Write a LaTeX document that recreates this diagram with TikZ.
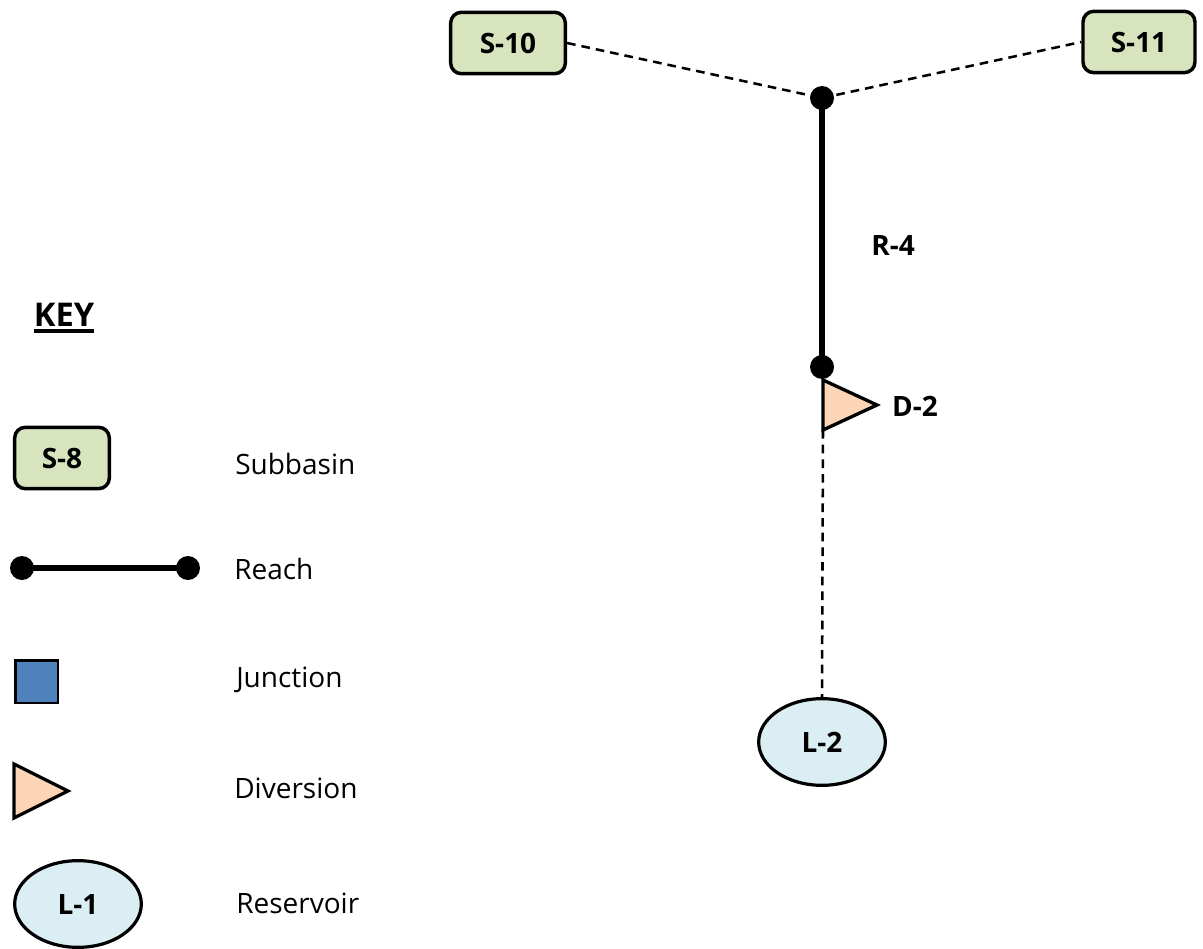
\documentclass[tikz,border=0pt]{standalone}
\usepackage{fontspec}
\setmainfont{Open Sans}
\usetikzlibrary{shapes.geometric}
\definecolor{subfill}{HTML}{D7E4BD}
\definecolor{divfill}{HTML}{FBD5B5}
\definecolor{resfill}{HTML}{DAEEF3}
\definecolor{junfill}{HTML}{4F81BD}
\begin{document}
\begin{tikzpicture}[x=0.75pt,y=-0.75pt,
  lbl/.style={font=\bfseries\fontsize{21}{24}\selectfont},
  sub/.style={draw, line width=2.6pt, rounded corners=8pt, fill=subfill, minimum height=46pt, inner sep=0pt, lbl},
  res/.style={ellipse, draw, line width=2.4pt, fill=resfill, minimum width=95pt, minimum height=65pt, inner sep=0pt, lbl},
  dot/.style={circle, fill=black, minimum size=18pt, inner sep=0pt},
  keytxt/.style={anchor=west, inner sep=0pt, font=\fontsize{21}{25}\selectfont},
  link/.style={line width=1.9pt, dash pattern=on 6.5pt off 4.5pt},
  reach/.style={line width=4.2pt},
  tri/.style={draw, line width=2.5pt, fill=divfill, line join=miter}]
\useasboundingbox (0,0) rectangle (1203,949);
% main network
\node[sub, minimum width=86pt] (s10) at (508,43) {S-10};
\node[sub, minimum width=84pt] (s11) at (1139,42) {S-11};
\node[dot] (j1) at (822,98) {};
\node[dot] (j2) at (822,367) {};
\draw[link] (s10.east) -- (j1.center);
\draw[link] (j1.center) -- (s11.west);
\draw[reach] (j1.center) -- (j2.center);
\node[lbl] (r4) at (893,246) {R-4};
\coordinate (d2a) at (823,380);
\coordinate (d2b) at (823,430);
\coordinate (d2c) at (877,405);
\draw[tri] (d2a) -- (d2c) -- (d2b) -- cycle;
\node[lbl] (d2) at (915,406) {D-2};
\node[res] (l2) at (822,742) {L-2};
\draw[link] (d2b) -- (l2.north);
% key
\node[inner sep=0pt, anchor=base, font=\bfseries\fontsize{24.5}{28}\selectfont] (key) at (64,326) {KEY};
\draw[line width=2.8pt] ([yshift=-4pt]key.base west) -- ([yshift=-4pt]key.base east);
\node[sub, minimum width=71pt] (s8) at (62,458) {S-8};
\node[keytxt] (t1) at (235,464) {Subbasin};
\node[dot] (k1) at (22,568) {};
\node[dot] (k2) at (188,568) {};
\draw[reach] (k1.center) -- (k2.center);
\node[keytxt] (t2) at (234,569) {Reach};
\node[draw, line width=2pt, fill=junfill, minimum size=32pt, inner sep=0pt] (jn) at (36.5,681.5) {};
\node[keytxt] (t3) at (236,680) {Junction};
\coordinate (ka) at (14,764);
\coordinate (kb) at (14,818);
\coordinate (kc) at (68,791);
\draw[tri] (ka) -- (kc) -- (kb) -- cycle;
\node[keytxt] (t4) at (234,788) {Diversion};
\node[res] (l1) at (78,904) {L-1};
\node[keytxt] (t5) at (236,903) {Reservoir};
\end{tikzpicture}
\end{document}
